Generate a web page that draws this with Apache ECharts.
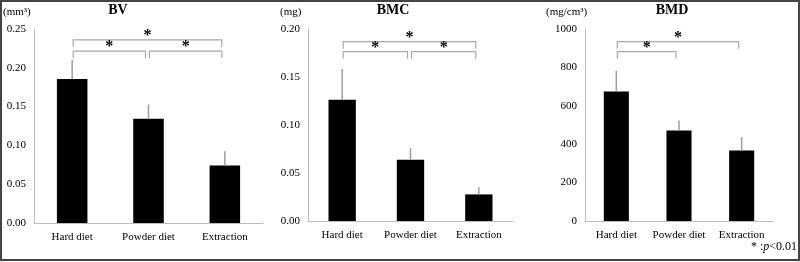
<!DOCTYPE html>
<html>
<head>
<meta charset="utf-8">
<script src="https://cdn.jsdelivr.net/npm/echarts@6/dist/echarts.min.js"></script>
<style>
  html, body { margin: 0; padding: 0; background: #fff; }
  #chart { width: 800px; height: 262px; }
</style>
</head>
<body>
<div id="chart"></div>
<script>
const categories = ['Hard diet', 'Powder diet', 'Extraction'];

const bvMean = [0.1855, 0.1345, 0.0741];
const bvError = [0.0249, 0.0181, 0.0184];
const bmcMean = [0.1262, 0.0638, 0.0277];
const bmcError = [0.0322, 0.0121, 0.0077];
const bmdMean = [674, 471, 367];
const bmdError = [109, 52, 70];

// [from category, to category, bracket level in axis units]
const bvBrackets = [[0, 2, 0.236], [0, 1, 0.2215], [1, 2, 0.2215]];
const bmcBrackets = [[0, 2, 0.1868], [0, 1, 0.1764], [1, 2, 0.1764]];
const bmdBrackets = [[0, 2, 934], [0, 1, 882]];

const serif = "'Liberation Serif', 'Times New Roman', serif";
const grey = '#bdbdbd';

const panels = [
  { title: 'BV', unit: '(mm³)', mean: bvMean, err: bvError, brackets: bvBrackets, max: 0.25, interval: 0.05, digits: 2,
    grid: { left: 34, width: 229, top: 29, height: 194 }, titleX: 118, unitX: 3 },
  { title: 'BMC', unit: '(mg)', mean: bmcMean, err: bmcError, brackets: bmcBrackets, max: 0.2, interval: 0.05, digits: 2,
    grid: { left: 308, width: 205, top: 29, height: 192 }, titleX: 393, unitX: 280 },
  { title: 'BMD', unit: '(mg/cm³)', mean: bmdMean, err: bmdError, brackets: bmdBrackets, max: 1000, interval: 200, digits: 0,
    grid: { left: 585, width: 188, top: 29, height: 192 }, titleX: 672, unitX: 546 },
];

function errorItem(params, api) {
  const base = api.coord([api.value(0), api.value(1)]);
  const top = api.coord([api.value(0), api.value(1) + api.value(2)]);
  return {
    type: 'line',
    shape: { x1: base[0], y1: base[1], x2: top[0], y2: top[1] },
    style: { stroke: '#9e9e9e', lineWidth: 1.5 },
  };
}

function bracketItem(params, api) {
  const a = api.coord([api.value(0), api.value(2)]);
  const b = api.coord([api.value(1), api.value(2)]);
  const x1 = a[0] + 1;
  const x2 = b[0] - 3;
  const y = a[1];
  return {
    type: 'group',
    children: [
      {
        type: 'polyline',
        shape: { points: [[x1, y + 7], [x1, y], [x2, y], [x2, y + 7]] },
        style: { stroke: '#a8a8a8', lineWidth: 1.2, fill: null },
      },
      {
        type: 'text',
        style: {
          x: (x1 + x2) / 2, y: y - 4, text: '*',
          font: 'bold 16px ' + serif, fill: '#000',
          align: 'center', verticalAlign: 'middle',
        },
      },
    ],
  };
}

const chart = echarts.init(document.getElementById('chart'));

const titles = [];
const grids = [];
const xAxes = [];
const yAxes = [];
const series = [];

panels.forEach((p, i) => {
  titles.push({
    text: p.title, left: p.titleX, top: 3, textAlign: 'center', padding: 0,
    textStyle: { fontFamily: serif, fontSize: 14, fontWeight: 'bold', color: '#000' },
  });
  titles.push({
    text: p.unit, left: p.unitX, top: 7, padding: 0,
    textStyle: { fontFamily: serif, fontSize: 11, fontWeight: 'normal', color: '#000' },
  });
  grids.push(p.grid);
  xAxes.push({
    type: 'category', gridIndex: i, data: categories,
    axisLine: { lineStyle: { color: grey, width: 1 } },
    axisTick: { show: false },
    axisLabel: { fontFamily: serif, fontSize: 11, color: '#000', margin: 9, interval: 0 },
  });
  yAxes.push({
    type: 'value', gridIndex: i, min: 0, max: p.max, interval: p.interval,
    axisLine: { show: true, lineStyle: { color: grey, width: 1 } },
    axisTick: { show: false },
    splitLine: { show: false },
    axisLabel: {
      fontFamily: serif, fontSize: 11, color: '#000', margin: 8,
      formatter: (v) => v.toFixed(p.digits),
    },
  });
  series.push({
    type: 'bar', xAxisIndex: i, yAxisIndex: i, data: p.mean, barWidth: '40%',
    itemStyle: { color: '#000' }, silent: true,
  });
  series.push({
    type: 'custom', xAxisIndex: i, yAxisIndex: i, renderItem: errorItem,
    data: p.mean.map((m, k) => [k, m, p.err[k]]), z: 3, silent: true,
  });
  series.push({
    type: 'custom', xAxisIndex: i, yAxisIndex: i, renderItem: bracketItem,
    data: p.brackets, z: 4, silent: true, clip: false,
  });
});

titles.push({
  text: '{a|* :}{b|p}{a|<0.01}', right: 3, top: 241, padding: 0,
  textStyle: {
    fontWeight: 'normal',
    rich: {
      a: { fontFamily: serif, fontSize: 12, fontWeight: 'normal', color: '#000' },
      b: { fontFamily: serif, fontSize: 12, fontWeight: 'normal', fontStyle: 'italic', color: '#000' },
    },
  },
});

chart.setOption({
  backgroundColor: '#fff',
  animation: false,
  title: titles,
  grid: grids,
  xAxis: xAxes,
  yAxis: yAxes,
  series: series,
  graphic: [{
    type: 'rect', shape: { x: 1, y: 1, width: 798, height: 259 },
    style: { fill: null, stroke: '#444', lineWidth: 2 }, silent: true,
  }],
});
</script>
</body>
</html>
